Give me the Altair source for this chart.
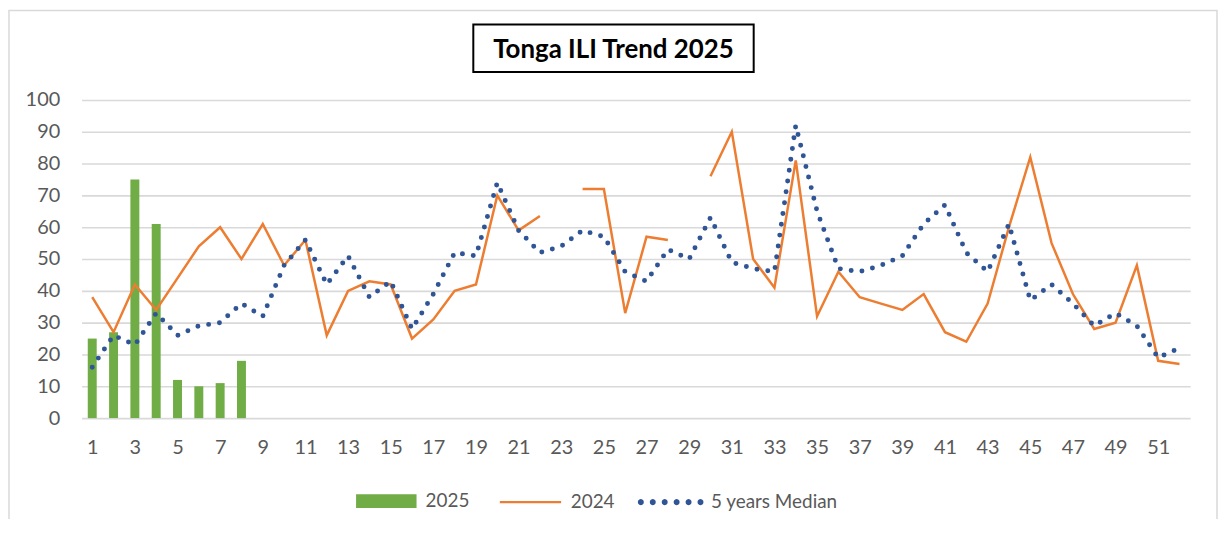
import math
import altair as alt
import pandas as pd

TITLE = "Tonga ILI Trend 2025"
FONT = "Lato"
GREEN = "#70AD47"
ORANGE = "#ED7D31"
BLUE = "#2F5597"
GRID = "#D9D9D9"
TEXT = "#595959"

weeks = list(range(1, 53))
x_tick_labels = list(range(1, 52, 2))
y_ticks = list(range(0, 101, 10))

series_names = ["2025", "2024", "5 years Median"]

cases_2025 = [25, 27, 75, 61, 12, 10, 11, 18]
cases_2024 = [38, 27, 42, 34, 44, 54, 60, 50, 61, 48,
              56, 26, 40, 43, 42, 25, 31, 40, 42, 70,
              59, 63.5, None, 72, 72, 33, 57, 56, None, 76,
              90, 50, 41, 81, 32, 46, 38, 36, 34, 39,
              27, 24, 36, 60, 82, 55, 39, 28, 30, 48,
              18, 17]
median_5y = [16, 26, 23, 33, 26, 29, 30, 36, 32, 48,
             56, 42, 51, 38, 43, 28, 39, 52, 51, 74,
             59, 52, 54, 59, 57, 46, 43, 53, 50, 63,
             49, 47, 46, 92, 65, 47, 46, 48, 51, 61,
             67, 52, 46, 61, 37, 42, 36, 29, 33, 29,
             19, 22]

df25 = pd.DataFrame({"week": weeks[:len(cases_2025)], "value": cases_2025,
                     "series": series_names[0]})

rows = []
seg = 0
for w, v in zip(weeks, cases_2024):
    if v is None:
        seg += 1
        continue
    rows.append({"week": w, "value": v, "seg": seg, "series": series_names[1]})
df24 = pd.DataFrame(rows)

dfmed = pd.DataFrame({"week": weeks, "value": median_5y, "series": series_names[2]})
one = pd.DataFrame({"t": [TITLE]})


def xenc():
    return alt.X("week:Q",
                 scale=alt.Scale(domain=[0.5, 52.5], nice=False, zero=False, padding=0),
                 axis=alt.Axis(values=x_tick_labels, grid=False, ticks=False, domain=False,
                               title=None, labelFont=FONT, labelFontSize=20, labelColor=TEXT,
                               labelPadding=20, labelFlush=False))


def yenc():
    return alt.Y("value:Q",
                 scale=alt.Scale(domain=[0, 100], nice=False),
                 axis=alt.Axis(values=y_ticks, grid=True, gridColor=GRID, gridWidth=1.6,
                               ticks=False, domain=False, title=None, labelFont=FONT,
                               labelFontSize=20, labelColor=TEXT, labelPadding=22))


def leg(x, y, **kw):
    return alt.Legend(title=None, orient="none", legendX=x, legendY=y,
                      labelFont=FONT, labelFontSize=19, labelColor=TEXT,
                      labelOffset=8, **kw)


# legend glyph for the dotted median: six tiny 12-gons, stroked thick -> round dots
def dots_path(n=6, r=0.015, k=12):
    parts = []
    for i in range(n):
        cx = -1 + 2 * i / (n - 1)
        pts = [(cx + r * math.cos(2 * math.pi * j / k), r * math.sin(2 * math.pi * j / k))
               for j in range(k)]
        parts.append("M" + "L".join(f"{px:.4f},{py:.4f}" for px, py in pts) + "Z")
    return "".join(parts)


border = alt.Chart(one).mark_rect(fill=None, stroke="#D9D9D9", strokeWidth=1.5).encode(
    x=alt.value(-73), x2=alt.value(1142), y=alt.value(-90), y2=alt.value(445))

title_box = alt.Chart(one).mark_rect(fill="white", stroke="black", strokeWidth=2).encode(
    x=alt.value(394), x2=alt.value(676), y=alt.value(-76), y2=alt.value(-28))

title_text = alt.Chart(one).mark_text(font=FONT, fontSize=26, fontWeight="bold",
                                      color="black", align="center",
                                      baseline="alphabetic").encode(
    x=alt.value(535), y=alt.value(-42), text="t:N")

LEG_Y = 372

bars = alt.Chart(df25).mark_bar(size=9).encode(
    x=xenc(), y=yenc(),
    color=alt.Color("series:N",
                    scale=alt.Scale(domain=[series_names[0]], range=[GREEN]),
                    legend=leg(275, LEG_Y, symbolType="M-1,-0.23H1V0.23H-1Z", symbolSize=3700)))

line24 = alt.Chart(df24).mark_line(strokeWidth=2.5).encode(
    x=xenc(), y=yenc(), detail="seg:N",
    color=alt.Color("series:N",
                    scale=alt.Scale(domain=[series_names[1]], range=[ORANGE]),
                    legend=leg(419, LEG_Y, symbolType="stroke", symbolSize=3800,
                               symbolStrokeWidth=2.5)))

medline = alt.Chart(dfmed).mark_line(strokeWidth=5, strokeDash=[0, 11], strokeCap="round").encode(
    x=xenc(), y=yenc(),
    color=alt.Color("series:N",
                    scale=alt.Scale(domain=[series_names[2]], range=[BLUE]),
                    legend=leg(560, LEG_Y, symbolType=dots_path(), symbolSize=3600,
                               symbolStrokeWidth=5)))

chart = alt.layer(border, title_box, title_text, bars, line24, medline).resolve_scale(
    color="independent"
).properties(
    width=1115, height=320,
    autosize=alt.AutoSizeParams(type="none"),
    padding={"left": 74, "top": 91, "right": 28, "bottom": 100},
    background="white",
).configure_view(stroke=None)

chart.save("out.html", embed_options={"renderer": "svg", "actions": False})
